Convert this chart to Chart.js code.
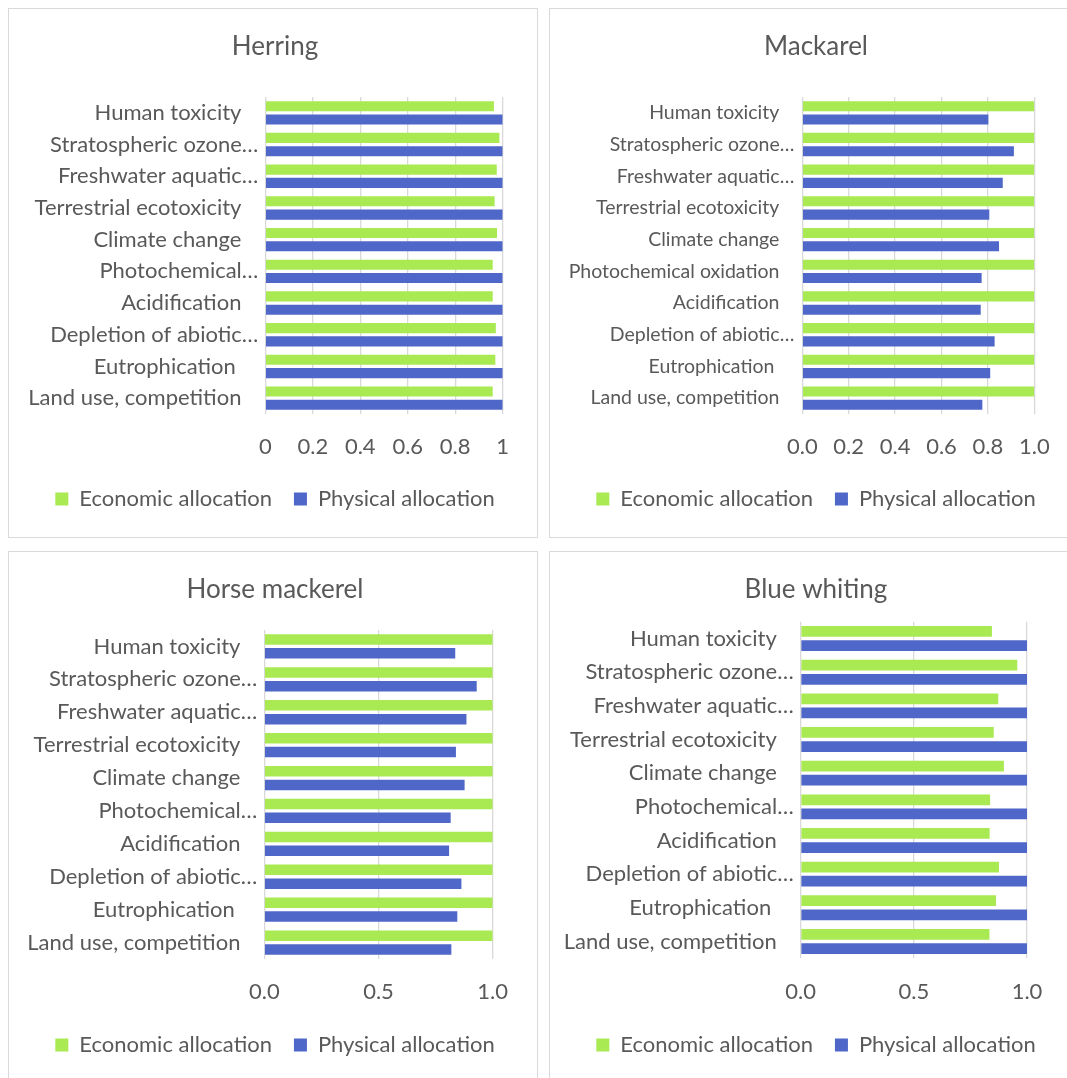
<!DOCTYPE html>
<html>
<head>
<meta charset="utf-8">
<title>Allocation comparison by species</title>
<script src="https://cdn.jsdelivr.net/npm/chart.js@4.4.1/dist/chart.umd.min.js"></script>
<style>
  html, body { margin: 0; padding: 0; background: #ffffff; }
  body { position: relative; width: 1067px; height: 1078px; overflow: hidden; }
  canvas { position: absolute; }
  .frame { position: absolute; box-sizing: border-box; border: 1.3px solid #d9d9d9; pointer-events: none; }
</style>
</head>
<body>
<canvas id="herring" width="530" height="530" style="left:8px;top:8px"></canvas>
<canvas id="mackarel" width="530" height="530" style="left:549px;top:8px"></canvas>
<canvas id="horse" width="530" height="530" style="left:8px;top:551px"></canvas>
<canvas id="blue" width="530" height="530" style="left:549px;top:551px"></canvas>
<div class="frame" style="left:8px;top:8px;width:530px;height:530px"></div>
<div class="frame" style="left:549px;top:8px;width:530px;height:530px"></div>
<div class="frame" style="left:8px;top:551px;width:530px;height:530px"></div>
<div class="frame" style="left:549px;top:551px;width:530px;height:530px"></div>
<script>
// Impact categories as shown on the axes (long names are cut with an ellipsis;
// trailing spaces keep the untruncated names clear of the axis).
const shortLabels = [
  'Human toxicity   ',
  'Stratospheric ozone…',
  'Freshwater aquatic…',
  'Terrestrial ecotoxicity   ',
  'Climate change   ',
  'Photochemical…',
  'Acidification   ',
  'Depletion of abiotic…',
  'Eutrophication    ',
  'Land use, competition   '
];
const mackarelLabels = [
  'Human toxicity   ',
  'Stratospheric ozone…',
  'Freshwater aquatic…',
  'Terrestrial ecotoxicity   ',
  'Climate change   ',
  'Photochemical oxidation   ',
  'Acidification   ',
  'Depletion of abiotic…',
  'Eutrophication    ',
  'Land use, competition   '
];

const seriesNames = ['Economic allocation', 'Physical allocation'];

// Herring
const herringEconomic = [0.963, 0.986, 0.975, 0.966, 0.976, 0.958, 0.958, 0.971, 0.969, 0.958];
const herringPhysical = [1, 1, 1, 1, 1, 1, 1, 1, 1, 1];
const herringTicks = ['0', '0.2', '0.4', '0.6', '0.8', '1'];

// Mackarel
const mackarelEconomic = [1, 1, 1, 1, 1, 1, 1, 1, 1, 1];
const mackarelPhysical = [0.802, 0.912, 0.864, 0.806, 0.848, 0.773, 0.769, 0.829, 0.810, 0.776];
const mackarelTicks = ['0.0', '0.2', '0.4', '0.6', '0.8', '1.0'];

// Horse mackerel
const horseEconomic = [1, 1, 1, 1, 1, 1, 1, 1, 1, 1];
const horsePhysical = [0.836, 0.930, 0.885, 0.839, 0.877, 0.816, 0.809, 0.863, 0.845, 0.819];
const horseTicks = ['0.0', '0.5', '1.0'];

// Blue whiting
const blueEconomic = [0.845, 0.957, 0.873, 0.853, 0.898, 0.837, 0.835, 0.876, 0.863, 0.834];
const bluePhysical = [1, 1, 1, 1, 1, 1, 1, 1, 1, 1];
const blueTicks = ['0.0', '0.5', '1.0'];

const GREEN = '#a9ea52';
const BLUE = '#4e67c8';
const TEXT = '#595959';
const GRID = '#d9d9d9';
const FONT = 'Lato, "Open Sans", sans-serif';

function drawPanel(id, title, labels, economic, physical, ticks, step, box) {
  const tickFont = { family: FONT, size: 22 };
  new Chart(document.getElementById(id), {
    type: 'bar',
    data: {
      labels: labels,
      datasets: [
        { label: seriesNames[0], data: economic, backgroundColor: GREEN, borderWidth: 0,
          categoryPercentage: 0.84, barPercentage: 0.76 },
        { label: seriesNames[1], data: physical, backgroundColor: BLUE, borderWidth: 0,
          categoryPercentage: 0.84, barPercentage: 0.76 }
      ]
    },
    options: {
      indexAxis: 'y',
      responsive: false,
      animation: false,
      layout: { padding: { left: 4, right: 0, top: 0, bottom: box.padBottom } },
      plugins: {
        title: {
          display: true, text: title, color: TEXT,
          font: { family: FONT, size: 26, weight: 'normal' },
          padding: { top: box.titleTop, bottom: box.titleBottom }
        },
        legend: {
          position: 'bottom',
          labels: { color: TEXT, font: { family: FONT, size: 22 }, boxWidth: 13, boxHeight: 13, padding: 22 }
        },
        tooltip: { enabled: false }
      },
      scales: {
        x: {
          min: 0, max: 1,
          ticks: { stepSize: step, color: TEXT, font: tickFont, padding: 20,
                   callback: (v, i) => ticks[i] },
          grid: { color: GRID, lineWidth: 1.3, drawTicks: false },
          border: { display: false },
          afterFit: s => { s.height = box.axisHeight; }
        },
        y: {
          ticks: { color: TEXT, font: { family: FONT, size: box.labelSize }, padding: box.labelGap, autoSkip: false },
          grid: { display: false, drawTicks: false },
          border: { display: false },
          afterFit: s => { s.width = box.labelWidth; }
        },
        yRight: {
          type: 'category', position: 'right', display: true,
          ticks: { display: false }, grid: { display: false, drawTicks: false },
          border: { display: false },
          afterFit: s => { s.width = box.rightGap; }
        }
      }
    }
  });
}

function drawAll() {
  drawPanel('herring', 'Herring', shortLabels, herringEconomic, herringPhysical, herringTicks, 0.2,
    { padBottom: 18, titleTop: 22.9, titleBottom: 34.9, axisHeight: 52, labelWidth: 253.3, rightGap: 35.3,
      labelSize: 22, labelGap: 7 });
  drawPanel('mackarel', 'Mackarel', mackarelLabels, mackarelEconomic, mackarelPhysical, mackarelTicks, 0.2,
    { padBottom: 18, titleTop: 22.9, titleBottom: 34.9, axisHeight: 52, labelWidth: 249.3, rightGap: 44.7,
      labelSize: 19.5, labelGap: 8 });
  drawPanel('horse', 'Horse mackerel', shortLabels, horseEconomic, horsePhysical, horseTicks, 0.5,
    { padBottom: 15, titleTop: 23.4, titleBottom: 24.4, axisHeight: 53, labelWidth: 252.3, rightGap: 45.3,
      labelSize: 22, labelGap: 7 });
  drawPanel('blue', 'Blue whiting', shortLabels, blueEconomic, bluePhysical, blueTicks, 0.5,
    { padBottom: 15, titleTop: 23.4, titleBottom: 16.1, axisHeight: 53.7, labelWidth: 247.7, rightGap: 52,
      labelSize: 22, labelGap: 7 });
}

if (document.fonts && document.fonts.load) {
  Promise.all([document.fonts.load('22px Lato'), document.fonts.load('26px Lato')])
    .then(drawAll, drawAll);
} else {
  drawAll();
}
</script>
</body>
</html>
